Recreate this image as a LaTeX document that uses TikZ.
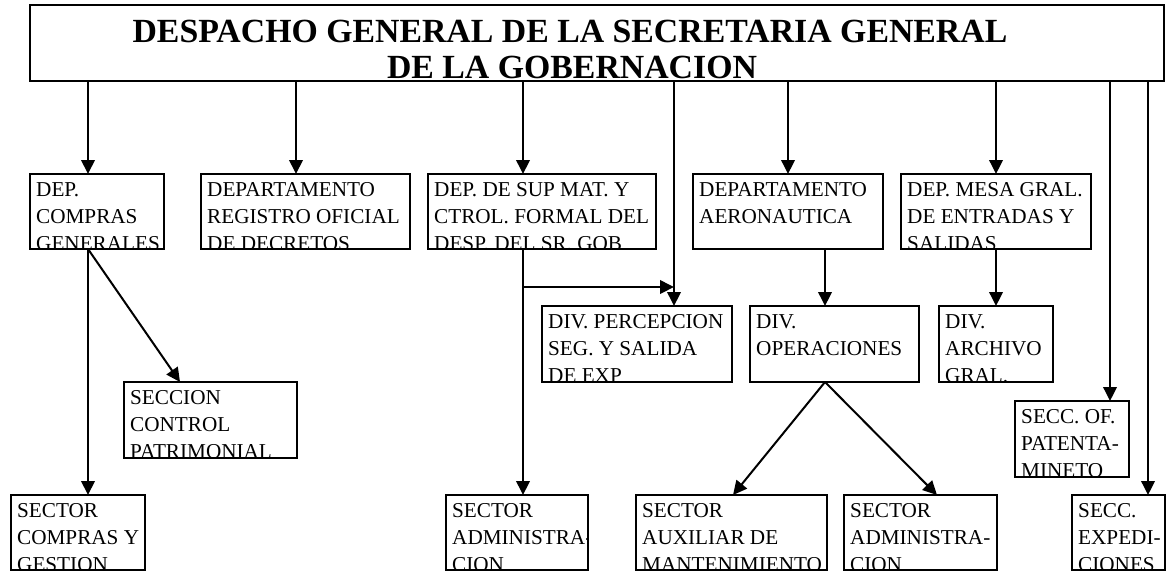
\documentclass[tikz,border=0pt]{standalone}
\usepackage{fontspec}
\setmainfont{Liberation Serif}
\usetikzlibrary{arrows.meta}
\tikzset{
  box/.style={draw, line width=2.8pt, inner sep=0pt, outer sep=0pt, anchor=north west, fill=white},
  boxtext/.style={anchor=north west, inner sep=0pt, align=left, font=\fontsize{21.2}{27}\selectfont},
  conn/.style={line width=2pt, -{Triangle[length=14pt,width=13.5pt]}},
  title/.style={anchor=base, inner sep=0pt, font=\bfseries\fontsize{33.8}{36}\selectfont},
}
% name, x, y, width, height, text
\newcommand\orgbox[6]{%
  \node[box, minimum width=#4pt, minimum height=#5pt] (#1) at (#2,#3) {};
  \begin{scope}
    \clip ([xshift=1.4pt,yshift=-1.4pt]#1.north west) rectangle ([xshift=-1.4pt,yshift=1.4pt]#1.south east);
    \node[boxtext] (#1-text) at ([xshift=6pt,yshift=-8.5pt]#1.north west) {#6};
  \end{scope}}
\begin{document}
\begin{tikzpicture}[x=1pt,y=-1pt]
\useasboundingbox[fill=white] (0,0) rectangle (1166,571);
% top box
\node[box, minimum width=1134pt, minimum height=76pt] (top) at (30,5) {};
\node[title] (t1) at (570,42) {DESPACHO GENERAL DE LA SECRETARIA GENERAL};
\node[title] (t2) at (572,78) {DE LA GOBERNACION};
% level 1
\orgbox{A}{30}{174}{134}{75}{DEP.\\COMPRAS\\GENERALES}
\orgbox{B}{201}{174}{209}{75}{DEPARTAMENTO\\REGISTRO OFICIAL\\DE DECRETOS}
\orgbox{C}{428}{174}{228}{75}{DEP. DE SUP MAT. Y\\CTROL. FORMAL DEL\\DESP. DEL SR. GOB}
\orgbox{D}{693}{174}{190}{75}{DEPARTAMENTO\\AERONAUTICA}
\orgbox{E}{901}{174}{190}{75}{DEP. MESA GRAL.\\DE ENTRADAS Y\\SALIDAS}
% level 2
\orgbox{perc}{542}{306}{190}{76}{DIV. PERCEPCION\\SEG. Y SALIDA\\DE EXP}
\orgbox{oper}{750}{306}{169}{76}{DIV.\\OPERACIONES}
\orgbox{arch}{939}{306}{114}{76}{DIV.\\ARCHIVO\\GRAL.}
\orgbox{secc}{124}{382}{173}{76}{SECCION\\CONTROL\\PATRIMONIAL}
\orgbox{pat}{1015}{401}{114}{76}{SECC. OF.\\PATENTA-\\MINETO}
% bottom row
\orgbox{scg}{11}{495}{134}{75}{SECTOR\\COMPRAS Y\\GESTION}
\orgbox{sadmA}{446}{495}{142}{75}{SECTOR\\ADMINISTRA-\\CION}
\orgbox{aux}{636}{495}{191}{75}{SECTOR\\AUXILIAR DE\\MANTENIMIENTO}
\orgbox{sadmB}{844}{495}{153}{75}{SECTOR\\ADMINISTRA-\\CION}
\orgbox{exp}{1072}{495}{93}{75}{SECC.\\EXPEDI-\\CIONES}
% x positions of connectors
\coordinate (xA) at (88,0);
\coordinate (xB) at (296,0);
\coordinate (xC) at (523,0);
\coordinate (xP) at (674,0);
\coordinate (xD) at (788,0);
\coordinate (xO) at (825,0);
\coordinate (xE) at (996,0);
\coordinate (xT) at (1110,0);
\coordinate (xX) at (1148,0);
\coordinate (xS) at (180,0);
\coordinate (xU) at (733,0);
\coordinate (xV) at (937,0);
\coordinate (br) at (523,287);
% connectors
\draw[conn] (top.south -| xA) -- (A.north -| xA);
\draw[conn] (top.south -| xB) -- (B.north -| xB);
\draw[conn] (top.south -| xC) -- (C.north -| xC);
\draw[conn] (top.south -| xP) -- (perc.north -| xP);
\draw[conn] (top.south -| xD) -- (D.north -| xD);
\draw[conn] (top.south -| xE) -- (E.north -| xE);
\draw[conn] (top.south -| xT) -- (pat.north -| xT);
\draw[conn] (top.south -| xX) -- (exp.north -| xX);
\draw[conn] (A.south -| xA) -- (scg.north -| xA);
\draw[conn] (A.south -| xA) -- (secc.north -| xS);
\draw[conn] (C.south -| xC) -- (sadmA.north -| xC);
\draw[conn] (br) -- (br -| xP);
\draw[conn] (D.south -| xO) -- (oper.north -| xO);
\draw[conn] (E.south -| xE) -- (arch.north -| xE);
\draw[conn] (oper.south -| xO) -- (aux.north -| xU);
\draw[conn] (oper.south -| xO) -- (sadmB.north -| xV);
\end{tikzpicture}
\end{document}
